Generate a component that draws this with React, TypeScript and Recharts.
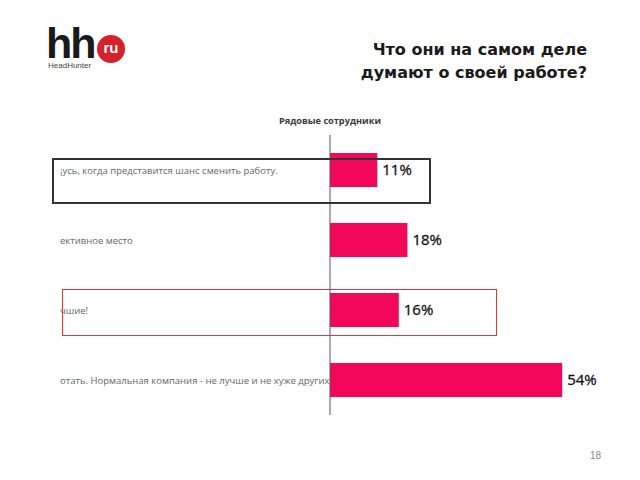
import { BarChart, Bar, XAxis, YAxis, LabelList } from 'recharts';

const categories = [
  '¡усь, когда представится шанс  сменить работу.',
  'ективное место',
  'чшие!',
  'отать. Нормальная компания - не лучше и не хуже других',
];
const shares = [11, 18, 16, 54];
const chartTitle = 'Рядовые сотрудники';
const pageTitle = ['Что они на самом деле', 'думают о своей работе?'];
const pageNumber = '18';

const data = categories.map((label, i) => ({ label, value: shares[i] }));

const LabelTick = (props: any) => {
  const { y, payload } = props;
  return (
    <text x={60} y={y} dy={3.5} fontSize={9.5} fill="#666" fontFamily="Open Sans" textAnchor="start">
      {payload.value}
    </text>
  );
};

export default function App() {
  return (
    <div style={{ position: 'absolute', left: 0, top: 0, width: 640, height: 480, background: '#fff', overflow: 'hidden' }}>
      {/* logo */}
      <div style={{ position: 'absolute', left: 46, top: 28, fontFamily: 'Liberation Sans', fontWeight: 700, fontSize: 43, lineHeight: '30px', letterSpacing: -2, color: '#1a1a1a' }}>hh</div>
      <div style={{ position: 'absolute', left: 97, top: 35, width: 28, height: 28, borderRadius: 14, background: '#d6202a', color: '#fff', fontFamily: 'Liberation Sans', fontWeight: 700, fontSize: 15, lineHeight: '26px', textAlign: 'center' }}>ru</div>
      <div style={{ position: 'absolute', left: 48, top: 62, fontFamily: 'Liberation Sans', fontSize: 8, lineHeight: '8px', color: '#444' }}>HeadHunter</div>

      <div style={{ position: 'absolute', right: 53, top: 38, fontFamily: 'DejaVu Sans', fontWeight: 700, fontSize: 16, lineHeight: '23px', color: '#1a1a1a', textAlign: 'right' }}>
        {pageTitle.map(t => <div key={t}>{t}</div>)}
      </div>

      <div style={{ position: 'absolute', left: 230, width: 200, top: 114, textAlign: 'center', fontFamily: 'Open Sans', fontWeight: 700, fontSize: 9.2, color: '#3a3a3a' }}>{chartTitle}</div>

      <div style={{ position: 'absolute', left: 0, top: 0 }}>
        <BarChart width={640} height={480} data={data} layout="vertical" margin={{ top: 135, right: 52, bottom: 65, left: 0 }}>
          <XAxis type="number" domain={[0, 60]} hide />
          <YAxis type="category" dataKey="label" width={330} axisLine={{ stroke: '#555' }} tickLine={false} tick={<LabelTick />} interval={0} />
          <Bar dataKey="value" fill="#f2075b" barSize={34} isAnimationActive={false}>
            <LabelList dataKey="value" position="right" offset={5} formatter={(v: any) => `${v}%`} style={{ fontFamily: 'Open Sans', fontWeight: 400, fontSize: 15, fill: '#111', stroke: '#111', strokeWidth: 0.3 }} />
          </Bar>
        </BarChart>
      </div>

      {/* highlight boxes */}
      <div style={{ position: 'absolute', left: 52, top: 158, width: 379, height: 46, border: '2px solid #333', boxSizing: 'border-box' }} />
      <div style={{ position: 'absolute', left: 62, top: 289, width: 435, height: 47, border: '1.5px solid #e5343c', boxSizing: 'border-box' }} />

      <div style={{ position: 'absolute', left: 590, top: 450, fontFamily: 'Liberation Sans', fontSize: 10, color: '#888' }}>{pageNumber}</div>
    </div>
  );
}
